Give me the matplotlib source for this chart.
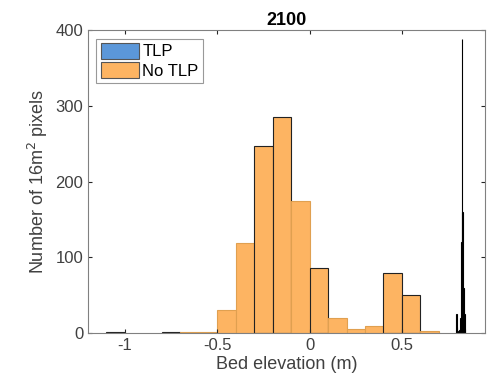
import numpy as np
import matplotlib
matplotlib.use('Agg')
import matplotlib.pyplot as plt

plt.rcParams['font.family'] = ['Liberation Sans', 'DejaVu Sans']

# No TLP histogram (bin width 0.1 m)
notlp_left = [-1.1, -0.8, -0.7, -0.6, -0.5, -0.4, -0.3, -0.2, -0.1, 0.0, 0.1, 0.2, 0.3, 0.4, 0.5, 0.6]
notlp_count = [2, 2, 1, 1, 31, 119, 247, 285, 175, 86, 20, 5, 9, 79, 51, 3]
notlp_dark = [True, True, False, False, False, False, True, True, False, True, False, False, False, True, True, False]

# TLP histogram (narrow bins near 0.83 m)
tlp_left = [0.792, 0.796, 0.800, 0.804, 0.808, 0.812, 0.816, 0.820, 0.824, 0.828, 0.832, 0.836, 0.840]
tlp_count = [26, 8, 3, 2, 4, 6, 20, 120, 389, 160, 60, 25, 5]

bin_w = 0.1
tlp_w = 0.004

fig = plt.figure(figsize=(5, 3.92), dpi=100)
ax = fig.add_axes([0.176, 0.15, 0.794, 0.773])

orange = '#fdb462'
blue = '#5b97d9'

edges = ['#222222' if d else '#e0a050' for d in notlp_dark]
ax.bar(tlp_left, tlp_count, width=tlp_w, align='edge', color=blue,
       edgecolor='black', linewidth=0.8, label='TLP')
ax.bar(notlp_left, notlp_count, width=bin_w, align='edge', color=orange,
       edgecolor=edges, linewidth=0.8, label='No TLP')

ax.set_xlim(-1.2, 0.95)
ax.set_ylim(0, 400)
ax.set_xticks([-1, -0.5, 0, 0.5])
ax.set_xticklabels(['-1', '-0.5', '0', '0.5'])
ax.set_yticks([0, 100, 200, 300, 400])

ax.tick_params(direction='in', top=True, right=True, length=3, labelsize=12,
               colors='#262626', labelcolor='#404040')
for s in ax.spines.values():
    s.set_color('#808080')
    s.set_linewidth(0.8)

ax.set_xlabel('Bed elevation (m)', fontsize=13, color='#404040', labelpad=2)
ax.set_ylabel('Number of 16m$^2$ pixels', fontsize=13, color='#404040')
ax.set_title('2100', fontsize=13, fontweight='bold', pad=4)

leg = ax.legend(loc='upper left', fontsize=12, frameon=True, fancybox=False,
                borderpad=0.25, handlelength=2.3, handleheight=1.1,
                handletextpad=0.2, labelspacing=0.15, borderaxespad=0.5)
leg.get_frame().set_edgecolor('#808080')
leg.get_frame().set_linewidth(0.8)
for h in leg.legend_handles:
    h.set_edgecolor('#555555')

fig.savefig('out.png', dpi=100)
